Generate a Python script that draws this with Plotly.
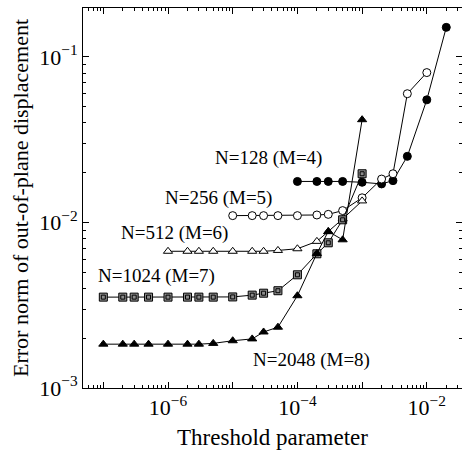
import numpy as np
import plotly.graph_objects as go

# ---------------- data ----------------
x_128 = [1e-4, 2e-4, 3e-4, 5e-4, 1e-3, 2e-3, 3e-3, 5e-3, 1e-2, 2e-2]
y_128 = [0.0177, 0.0177, 0.0177, 0.0177, 0.0175, 0.0171, 0.0179, 0.0251, 0.0551, 0.151]

x_256 = [1e-5, 2e-5, 3e-5, 5e-5, 1e-4, 2e-4, 3e-4, 5e-4, 1e-3, 2e-3, 3e-3, 5e-3, 1e-2]
y_256 = [0.0110, 0.0110, 0.0110, 0.0110, 0.0110, 0.0111, 0.0112, 0.0118, 0.0141, 0.0183, 0.0197, 0.0600, 0.0805]

x_512 = [1e-6, 2e-6, 3e-6, 5e-6, 1e-5, 2e-5, 3e-5, 5e-5, 1e-4, 2e-4, 3e-4, 5e-4, 1e-3]
y_512 = [0.0067, 0.0067, 0.0067, 0.0067, 0.0067, 0.0067, 0.0067, 0.00678, 0.00694, 0.00769, 0.0088, 0.0105, 0.0135]

x_1024 = [1e-7, 2e-7, 3e-7, 5e-7, 1e-6, 2e-6, 3e-6, 5e-6, 1e-5, 2e-5, 3e-5, 5e-5,
          1e-4, 2e-4, 3e-4, 5e-4, 1e-3]
y_1024 = [0.00354, 0.00354, 0.00354, 0.00354, 0.00354, 0.00354, 0.00354, 0.00354, 0.00355,
          0.00364, 0.00374, 0.00387, 0.00483, 0.00647, 0.00754, 0.01038, 0.0197]

x_2048 = [1e-7, 2e-7, 3e-7, 5e-7, 1e-6, 2e-6, 3e-6, 5e-6, 1e-5, 2e-5, 3e-5, 5e-5,
          1e-4, 2e-4, 3e-4, 5e-4, 1e-3]
y_2048 = [0.00184, 0.00184, 0.00184, 0.00184, 0.00184, 0.00184, 0.00184, 0.00186, 0.00193,
          0.00198, 0.00218, 0.00233, 0.00361, 0.0065, 0.00883, 0.00786, 0.0418]

series_labels = ["N=128 (M=4)", "N=256 (M=5)", "N=512 (M=6)", "N=1024 (M=7)", "N=2048 (M=8)"]

x_decades = [-7, -6, -5, -4, -3, -2]
x_ticktext = ["", "10<sup>−6</sup>", "", "10<sup>−4</sup>", "", "10<sup>−2</sup>"]
y_decades = [-3, -2, -1]
y_ticktext = ["10<sup>−3</sup>", "10<sup>−2</sup>", "10<sup>−1</sup>"]

FONT = "Liberation Serif"

fig = go.Figure()
line = dict(color="black", width=1)

fig.add_trace(go.Scatter(x=x_128, y=y_128, mode="lines+markers", line=line,
                         marker=dict(symbol="circle", size=8, color="black",
                                     line=dict(color="black", width=1)),
                         name=series_labels[0]))
fig.add_trace(go.Scatter(x=x_256, y=y_256, mode="lines+markers", line=line,
                         marker=dict(symbol="circle", size=8, color="white",
                                     line=dict(color="black", width=1)),
                         name=series_labels[1]))
fig.add_trace(go.Scatter(x=x_512, y=y_512, mode="lines+markers", line=line,
                         marker=dict(symbol="triangle-up", size=8, color="white",
                                     line=dict(color="black", width=1)),
                         name=series_labels[2]))
fig.add_trace(go.Scatter(x=x_1024, y=y_1024, mode="lines+markers", line=line,
                         marker=dict(symbol="square", size=8, color="#8c8c8c",
                                     line=dict(color="black", width=1)),
                         name=series_labels[3]))
fig.add_trace(go.Scatter(x=x_1024, y=y_1024, mode="markers",
                         marker=dict(symbol="square-open", size=4, color="black",
                                     line=dict(color="black", width=1)),
                         showlegend=False, hoverinfo="skip"))
fig.add_trace(go.Scatter(x=x_2048, y=y_2048, mode="lines+markers", line=line,
                         marker=dict(symbol="triangle-up", size=8, color="black",
                                     line=dict(color="black", width=1)),
                         name=series_labels[4]))

# label positions (log10 data coordinates)
label_pos = [(-4.45, -1.609), (-5.227, -1.851), (-5.907, -2.062), (-6.185, -2.325), (-3.79, -2.830)]
for txt, (lx, ly) in zip(series_labels, label_pos):
    fig.add_annotation(x=lx, y=ly, xref="x", yref="y", text=txt, showarrow=False,
                       font=dict(family=FONT, size=19, color="black"))

x_minor = [10 ** d * m for d in range(-8, -1) for m in range(2, 10)]
y_minor = [10 ** d * m for d in range(-4, 0) for m in range(2, 10)]

fig.update_xaxes(type="log", range=[-7.314, -1.456], automargin=False,
                 tickmode="array", tickvals=[10.0 ** d for d in x_decades], ticktext=x_ticktext,
                 ticks="inside", ticklen=6, tickwidth=1, tickcolor="black",
                 minor=dict(tickmode="array", tickvals=x_minor, ticks="inside", ticklen=3,
                            tickwidth=1, tickcolor="black", showgrid=False),
                 showline=True, linecolor="black", linewidth=1, mirror="allticks",
                 showgrid=False, zeroline=False,
                 tickfont=dict(family=FONT, size=22, color="black"),
                 title=dict(text="Threshold parameter", font=dict(family=FONT, size=23, color="black"),
                            standoff=9))
fig.update_yaxes(type="log", range=[-3, -0.704], automargin=False,
                 tickmode="array", tickvals=[10.0 ** d for d in y_decades], ticktext=y_ticktext,
                 ticks="inside", ticklen=6, tickwidth=1, tickcolor="black",
                 minor=dict(tickmode="array", tickvals=y_minor, ticks="inside", ticklen=3,
                            tickwidth=1, tickcolor="black", showgrid=False),
                 showline=True, linecolor="black", linewidth=1, mirror="allticks",
                 showgrid=False, zeroline=False,
                 tickfont=dict(family=FONT, size=22, color="black"),
                 title=dict(text="Error norm of out-of-plane displacement",
                            font=dict(family=FONT, size=22, color="black"), standoff=4))

fig.update_layout(width=462, height=457, margin=dict(l=83, r=0, t=8, b=69),
                  paper_bgcolor="white", plot_bgcolor="white", showlegend=False,
                  font=dict(family=FONT, color="black"))

fig.write_html("out.html", config={"displayModeBar": False},
               post_script="document.body.style.margin='0';document.body.style.padding='0';")
